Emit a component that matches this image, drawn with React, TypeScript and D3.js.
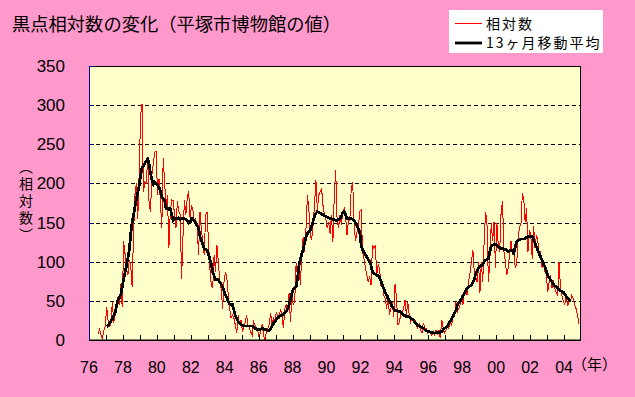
import * as d3 from "d3";

// month index 0 = Jan 1976
const RED_START = 6; // Jul 1976
const AVG_START = 12; // Jan 1977

// 相対数 (monthly), one row per year, 1976 starts in July, 2004 ends in November
const relative: number[][] = [
  [8, 14, 6, 2, 12, 18],
  [42, 25, 18, 20, 48, 22, 32, 40, 55, 45, 72, 42],
  [126, 110, 92, 83, 102, 96, 68, 135, 185, 200, 155, 215],
  [287, 302, 189, 202, 200, 232, 175, 164, 211, 225, 240, 241],
  [185, 206, 177, 143, 232, 202, 168, 185, 117, 164, 179, 178],
  [160, 143, 177, 164, 160, 78, 134, 179, 160, 181, 190, 155],
  [172, 166, 151, 155, 143, 109, 164, 140, 126, 109, 160, 164],
  [126, 92, 70, 66, 109, 87, 121, 100, 74, 66, 40, 74],
  [87, 79, 57, 40, 28, 32, 28, 19, 9, 32, 19, 26],
  [11, 15, 23, 32, 19, 15, 10, 6, 23, 19, 15, 10],
  [2, 15, 19, 6, 0, 11, 15, 20, 34, 19, 28, 23],
  [36, 30, 28, 40, 32, 15, 40, 45, 36, 60, 23, 57],
  [45, 49, 98, 81, 96, 70, 109, 132, 113, 143, 185, 168],
  [134, 128, 147, 172, 204, 166, 185, 189, 194, 172, 160, 155],
  [143, 151, 136, 160, 125, 185, 217, 153, 143, 160, 147, 164],
  [168, 158, 134, 153, 153, 194, 202, 151, 126, 138, 143, 164],
  [166, 113, 104, 92, 83, 74, 81, 70, 121, 117, 121, 83],
  [96, 92, 70, 74, 57, 53, 40, 57, 32, 40, 49, 30],
  [72, 53, 19, 23, 32, 36, 40, 51, 32, 49, 32, 23],
  [28, 23, 26, 19, 15, 21, 13, 9, 22, 15, 15, 9],
  [13, 11, 6, 10, 6, 13, 6, 13, 2, 26, 15, 9],
  [13, 19, 15, 23, 19, 30, 32, 49, 36, 40, 45, 57],
  [45, 62, 66, 57, 75, 85, 100, 115, 87, 81, 74, 100],
  [60, 100, 74, 126, 164, 149, 74, 100, 149, 126, 151, 92],
  [149, 121, 113, 164, 177, 113, 100, 83, 92, 109, 126, 109],
  [115, 92, 96, 130, 145, 147, 187, 181, 151, 168, 113, 140],
  [134, 104, 145, 117, 134, 126, 109, 113, 92, 100, 87, 83],
  [62, 74, 83, 66, 77, 66, 60, 57, 100, 66, 57, 49],
  [45, 57, 43, 49, 49, 57, 53, 45, 40, 32, 21],
];

// 13ヶ月移動平均, 1977 Jan .. 2004 May
const movingAvg: number[][] = [
  [17, 18, 22, 24, 27, 31, 35, 44, 51, 54, 58, 68],
  [78, 86, 95, 105, 115, 135, 150, 160, 170, 180, 188, 197],
  [210, 220, 222, 226, 228, 231, 225, 213, 205, 199, 202, 200],
  [198, 195, 190, 183, 180, 179, 168, 168, 167, 168, 160, 153],
  [155, 155, 155, 156, 154, 155, 156, 155, 154, 152, 149, 150],
  [155, 155, 152, 149, 146, 143, 132, 128, 122, 117, 116, 115],
  [110, 103, 97, 87, 82, 77, 77, 77, 74, 71, 68, 62],
  [58, 54, 49, 46, 45, 45, 38, 31, 28, 24, 22, 20],
  [19, 18, 18, 18, 18, 18, 18, 18, 17, 15, 14, 13],
  [13, 14, 15, 14, 13, 13, 12, 12, 14, 18, 21, 24],
  [26, 28, 30, 31, 32, 33, 35, 36, 40, 45, 52, 60],
  [65, 67, 68, 79, 95, 103, 110, 115, 124, 132, 136, 138],
  [140, 145, 152, 158, 162, 164, 163, 162, 161, 160, 159, 158],
  [157, 156, 155, 155, 154, 154, 153, 153, 154, 155, 158, 163],
  [164, 160, 155, 155, 155, 155, 154, 152, 150, 146, 142, 138],
  [121, 115, 112, 109, 106, 103, 100, 95, 87, 85, 84, 83],
  [82, 80, 75, 70, 66, 61, 57, 53, 50, 46, 42, 40],
  [38, 37, 37, 36, 36, 34, 32, 31, 30, 30, 29, 28],
  [27, 25, 23, 21, 19, 18, 17, 16, 15, 13, 12, 11],
  [11, 10, 10, 9, 9, 9, 10, 10, 10, 11, 13, 15],
  [16, 18, 21, 24, 27, 30, 34, 38, 44, 48, 50, 52],
  [56, 60, 63, 66, 68, 69, 70, 74, 77, 85, 88, 92],
  [94, 95, 96, 100, 102, 103, 104, 113, 120, 121, 122, 122],
  [121, 119, 118, 117, 117, 116, 116, 114, 113, 114, 115, 114],
  [111, 119, 125, 127, 128, 129, 129, 129, 130, 131, 132, 132],
  [132, 132, 128, 124, 119, 114, 110, 106, 102, 98, 93, 88],
  [82, 80, 77, 74, 71, 69, 68, 66, 64, 63, 62, 61],
  [58, 56, 54, 52, 49],
];

const yTicks = [0, 50, 100, 150, 200, 250, 300, 350];
const yearLabels = ["76", "78", "80", "82", "84", "86", "88", "90", "92", "94", "96", "98", "00", "02", "04"];
const nYears = 29;

const jp = "'Noto Sans CJK JP', sans-serif";
const num = "'Liberation Sans', Arial, sans-serif";

export default function App() {
  const W = 635;
  const H = 397;
  const left = 89;
  const right = 581;
  const top = 66;
  const bottom = 340;

  const x = d3.scaleLinear().domain([0, nYears * 12]).range([left, right]);
  const y = d3.scaleLinear().domain([0, 350]).range([bottom, top]);

  const red = relative.flat();
  const avg = movingAvg.flat();

  const redLine = d3
    .line<number>()
    .x((_, i) => x(RED_START + i + 0.5))
    .y((d) => y(d));
  const avgLine = d3
    .line<number>()
    .x((_, i) => x(AVG_START + i + 0.5))
    .y((d) => y(d));

  const yearTicks = d3.range(1, nYears);

  return (
    <svg
      width={W}
      height={H}
      style={{ position: "absolute", left: 0, top: 0, background: "#FF99CC" }}
    >
      <rect x={0} y={0} width={W} height={H} fill="#FF99CC" />
      <text x={12} y={31} fontFamily={jp} fontSize={18.3} fill="#000">
        黒点相対数の変化（平塚市博物館の値）
      </text>

      {/* plot area */}
      <rect x={left} y={top} width={right - left} height={bottom - top} fill="#FFFFCC" />
      {yTicks.slice(1, -1).map((t) => (
        <line
          key={t}
          x1={left}
          x2={right}
          y1={Math.round(y(t)) + 0.5}
          y2={Math.round(y(t)) + 0.5}
          stroke="#000"
          strokeDasharray="4,3"
        />
      ))}

      <path
        d={redLine(red) ?? ""}
        fill="none"
        stroke="#FF0000"
        strokeWidth={1}
        shapeRendering="crispEdges"
      />
      <path
        d={avgLine(avg) ?? ""}
        fill="none"
        stroke="#000"
        strokeWidth={2.8}
        shapeRendering="crispEdges"
      />

      <rect
        x={left + 0.5}
        y={top + 0.5}
        width={right - left - 1}
        height={bottom - top - 0.5}
        fill="none"
        stroke="#000"
      />
      {/* y axis */}
      <line x1={left + 0.5} x2={left + 0.5} y1={top} y2={bottom} stroke="#000080" />
      {yTicks.map((t) => (
        <g key={t}>
          <line
            x1={left}
            x2={left + 5}
            y1={Math.round(y(t)) + 0.5}
            y2={Math.round(y(t)) + 0.5}
            stroke="#000080"
          />
          <text x={65} y={y(t) + 6} textAnchor="end" fontFamily={num} fontSize={17} fill="#000">
            {t}
          </text>
        </g>
      ))}
      {/* x axis */}
      <line x1={left} x2={right} y1={bottom + 0.5} y2={bottom + 0.5} stroke="#000" />
      {yearTicks.map((k) => (
        <line
          key={k}
          x1={Math.round(x(k * 12)) + 0.5}
          x2={Math.round(x(k * 12)) + 0.5}
          y1={bottom - 5}
          y2={bottom}
          stroke="#000"
        />
      ))}
      {yearLabels.map((lab, j) => (
        <text
          key={lab}
          x={x(j * 24)}
          y={373}
          textAnchor="middle"
          fontFamily={num}
          fontSize={16}
          fill="#000"
        >
          {lab}
        </text>
      ))}
      <text x={572} y={370} fontFamily={jp} fontSize={15} fill="#000">
        （年）
      </text>

      {/* y axis title (vertical) */}
      <text
        x={26}
        y={160}
        fontFamily={jp}
        fontSize={14}
        fill="#000"
        writingMode="vertical-rl"
        letterSpacing={3}
      >
        （相対数）
      </text>

      {/* legend */}
      <rect x={449} y={10} width={154} height={43} fill="#FFFFFF" />
      <line x1={455} x2={482} y1={23.5} y2={23.5} stroke="#FF0000" />
      <text x={486} y={28.5} fontFamily={jp} fontSize={14} letterSpacing={2} fill="#000">
        相対数
      </text>
      <line x1={455} x2={482} y1={43} y2={43} stroke="#000" strokeWidth={2.8} />
      <text x={486} y={48} fontFamily={jp} fontSize={14} letterSpacing={2} fill="#000">
        13ヶ月移動平均
      </text>
    </svg>
  );
}
